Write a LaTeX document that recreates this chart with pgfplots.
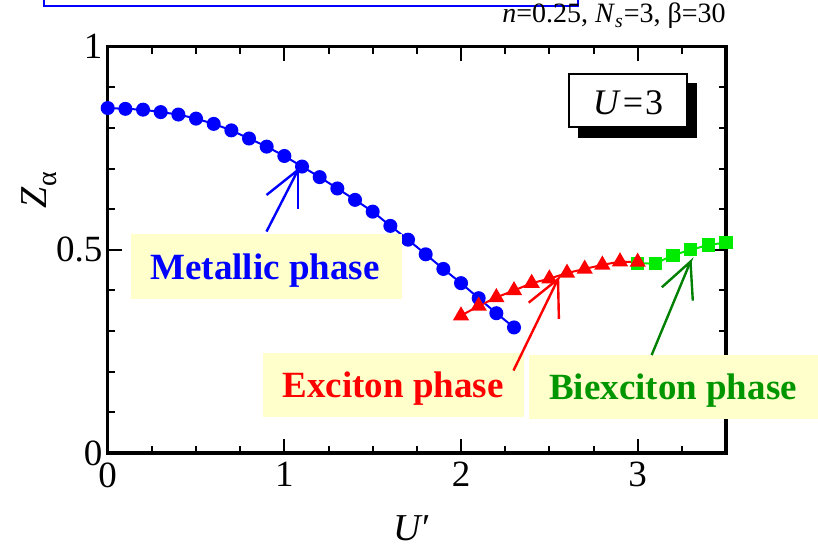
\documentclass[border=0pt]{standalone}
\usepackage{pgfplots}
\pgfplotsset{compat=1.18}
\usepackage{fontspec}
\setmainfont{Liberation Serif}
\definecolor{myblue}{RGB}{0,0,255}
\definecolor{myred}{RGB}{255,0,0}
\definecolor{mygreen}{RGB}{0,235,0}
\definecolor{darkgreen}{RGB}{0,128,0}
\definecolor{textgreen}{RGB}{0,150,0}
\definecolor{boxyellow}{RGB}{255,255,204}
\begin{document}
\begin{tikzpicture}
\useasboundingbox (0,0) rectangle (409pt,274.5pt);
\begin{axis}[
  at={(53.85pt,48pt)}, anchor=south west,
  scale only axis, width=309.15pt, height=203.15pt,
  xmin=0, xmax=3.5, ymin=0, ymax=1,
  xtick={0,1,2,3}, xticklabels={0,1,2,3},
  minor xtick={0.25,0.5,0.75,1.25,1.5,1.75,2.25,2.5,2.75,3.25},
  ytick={0,0.5,1}, yticklabels={0,0.5,1},
  minor ytick={0.1,0.2,0.3,0.4,0.6,0.7,0.8,0.9},
  tick align=inside,
  major tick length=7pt, minor tick length=3.6pt,
  every tick/.style={black, line width=1pt},
  axis line style={line width=1.6pt},
  tick label style={font=\fontsize{18.5}{20}\selectfont},
  yticklabel style={inner xsep=2.5pt},
  xticklabel style={yshift=-1.2pt},
  clip=false,
]
\addplot[myblue, line width=1pt, mark=*, mark size=3pt] coordinates {
(0,0.849) (0.1,0.847) (0.2,0.845) (0.3,0.839) (0.4,0.833) (0.5,0.823)
(0.6,0.810) (0.7,0.794) (0.8,0.774) (0.9,0.754) (1.0,0.731) (1.1,0.705)
(1.2,0.679) (1.3,0.651) (1.4,0.623) (1.5,0.594) (1.6,0.559) (1.7,0.525)
(1.8,0.489) (1.9,0.453) (2.0,0.418) (2.1,0.381) (2.2,0.344) (2.3,0.309)
};
\addplot[mygreen, line width=1pt, mark=square*, mark size=2.8pt] coordinates {
(3.0,0.467) (3.1,0.466) (3.2,0.487) (3.3,0.500) (3.4,0.512) (3.5,0.518)
};
\addplot[myred, line width=1pt, mark=triangle*, mark size=3.7pt] coordinates {
(2.0,0.338) (2.1,0.362) (2.2,0.383) (2.3,0.400) (2.4,0.418) (2.5,0.429)
(2.6,0.443) (2.7,0.453) (2.8,0.463) (2.9,0.471) (3.0,0.470)
};
\coordinate (mtip) at (axis cs:1.078,0.697);
\coordinate (mend) at (axis cs:0.899,0.545);
\coordinate (ma1) at (axis cs:0.899,0.635);
\coordinate (ma2) at (axis cs:1.078,0.600);
\coordinate (etip) at (axis cs:2.549,0.428);
\coordinate (eend) at (axis cs:2.297,0.203);
\coordinate (ea1) at (axis cs:2.383,0.370);
\coordinate (ea2) at (axis cs:2.554,0.330);
\coordinate (btip) at (axis cs:3.299,0.471);
\coordinate (bend) at (axis cs:3.079,0.241);
\coordinate (ba1) at (axis cs:3.137,0.408);
\coordinate (ba2) at (axis cs:3.312,0.375);
\end{axis}
\begin{scope}[x=0.5pt,y=-0.5pt,yshift=274.5pt]
% top-left blue box
\filldraw[fill=white, draw=myblue, line width=1pt] (44,-20) rectangle (578,6);
% parameters text
\node[anchor=base east, inner sep=0pt, font=\fontsize{14}{15}\selectfont] at (726,23)
  {\textit{n}=0.25, \textit{N}\textsubscript{\textit{s}}=3, β=30};
% labels
\node[rotate=90, anchor=base, inner sep=0pt, font=\fontsize{19}{20}\selectfont] at (47,190)
  {\textit{Z}\raisebox{-0.25em}{\fontsize{14}{14}\selectfont α}};
\node[anchor=base, inner sep=0pt, font=\fontsize{19}{20}\selectfont] at (412,541)
  {\textit{U}′};
% U=3 box
\fill[black] (578.3,82.7) rectangle (697.3,138.3);
\filldraw[fill=white, draw=black, line width=1pt] (569.3,74) rectangle (686.7,127.3);
\node[anchor=base, inner sep=0pt, font=\fontsize{18}{19}\selectfont] at (628,115)
  {\textit{U}\kern1pt=\kern1pt3};
% phase boxes
\fill[boxyellow] (131,234) rectangle (401.7,299);
\node[anchor=base, inner sep=0pt, text=myblue, font=\bfseries\fontsize{18.5}{20}\selectfont] at (265,280) {Metallic phase};
\fill[boxyellow] (262.7,353) rectangle (523.5,417);
\node[anchor=base, inner sep=0pt, text=myred, font=\bfseries\fontsize{18.5}{20}\selectfont] at (393,398) {Exciton phase};
\fill[boxyellow] (529,355) rectangle (830,419);
\node[anchor=base, inner sep=0pt, text=textgreen, font=\bfseries\fontsize{18.5}{20}\selectfont] at (673,400) {Biexciton phase};
\end{scope}
% arrows
\draw[myblue, line width=1.2pt] (mend) -- (mtip) -- (ma1);
\draw[myblue, line width=1.2pt] (mtip) -- (ma2);
\draw[myred, line width=1.2pt] (eend) -- (etip) -- (ea1);
\draw[myred, line width=1.2pt] (etip) -- (ea2);
\draw[darkgreen, line width=1.2pt] (bend) -- (btip) -- (ba1);
\draw[darkgreen, line width=1.2pt] (btip) -- (ba2);
\end{tikzpicture}
\end{document}
